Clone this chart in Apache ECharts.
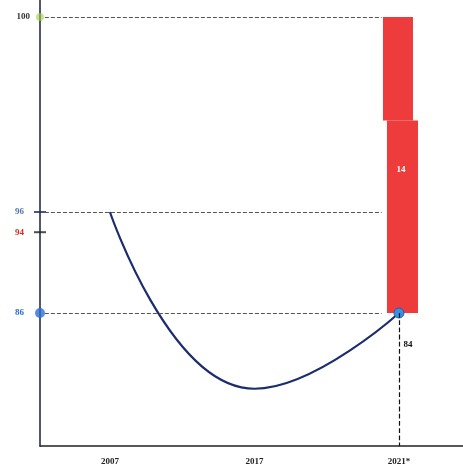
<!DOCTYPE html>
<html><head><meta charset="utf-8">
<script src="https://cdn.jsdelivr.net/npm/echarts@6/dist/echarts.min.js"></script>
<style>html,body{margin:0;padding:0;background:#fff}#c{width:463px;height:467px}</style>
</head><body><div id="c"></div>
<script>
// ---- data ----
const categories = ['2007', '2017', '2021*'];
const lineValues = [96, 78.5, 86];
const lineLabels = ['81', '83', '84'];
const barIndex = 2;
const barBase = 86;
const barTop = 100;
const barLabel = '14';
const upperTicks = [100];
const lowerTicks = [96, 94, 86];
const lowerTickColors = ['#5577b0', '#d42a2a', '#2d6fd2'];
const refLinesLower = [96, 86];
const refLinesUpper = [100];

// ---- layout / scales ----
const X_MIN = -0.484, X_MAX = 2.443;
const Y0_MIN = 79.71, Y0_MAX = 100.8;   // bar scale
const Y1_MIN = 72.83, Y1_MAX = 116.99;  // line scale
const BREAK_AT = 95.1;                  // visual break of the bar
const REF_X0 = -0.45, REF_X1 = 1.88;
const serif = '"Liberation Serif", "DejaVu Serif", serif';

const chart = echarts.init(document.getElementById('c'), null, {renderer: 'canvas'});

const lineData = lineValues.map((v, i) => {
  const item = {value: [i, v], symbol: 'none'};
  if (i === lineValues.length - 1) {
    item.symbol = 'circle';
    item.symbolSize = 10;
    item.itemStyle = {color: '#3d8fe0', borderColor: '#1f5fb0', borderWidth: 1};
  }
  return item;
});
const labelCfg = [
  {position: 'bottom', distance: 9, offset: [3, 0]},
  {position: 'bottom', distance: 15, offset: [0, 0]},
  {position: 'bottom', distance: 22, offset: [9, 0]}
];
lineData.forEach((d, i) => {
  d.label = Object.assign({show: true, formatter: lineLabels[i], color: '#111',
    fontFamily: serif, fontWeight: 'bold', fontSize: 9}, labelCfg[i]);
});

const dashed = {type: 'dashed', color: '#555', width: 1};

function renderBar(params, api) {
  const x = api.value(0), lo = api.value(1), hi = api.value(2);
  const pTop = api.coord([x, hi]);
  const pBrk = api.coord([x, BREAK_AT]);
  const pLo = api.coord([x, lo]);
  return {
    type: 'group',
    children: [
      {type: 'rect', shape: {x: pTop[0] - 16, y: pTop[1], width: 30, height: pBrk[1] - pTop[1]},
       style: {fill: '#ee3b3b'}},
      {type: 'rect', shape: {x: pBrk[0] - 12, y: pBrk[1], width: 31, height: pLo[1] - pBrk[1]},
       style: {fill: '#ee3b3b'}},
      {type: 'text', x: pLo[0] + 2, y: (pTop[1] + pLo[1]) / 2 + 5,
       style: {text: barLabel, fill: '#fff', align: 'center', verticalAlign: 'middle',
         font: 'bold 9px ' + serif}}
    ]
  };
}

const option = {
  animation: false,
  grid: {left: 40, right: 0, top: 0, bottom: 21, containLabel: false, outerBoundsMode: 'none'},
  xAxis: {
    type: 'value', min: X_MIN, max: X_MAX,
    splitLine: {show: false},
    axisLine: {show: true, onZero: false, lineStyle: {color: '#222', width: 1.5}},
    axisTick: {show: false},
    axisLabel: {
      customValues: categories.map((c, i) => i),
      formatter: v => categories[Math.round(v)],
      color: '#222', fontFamily: serif, fontWeight: 'bold', fontSize: 9, margin: 11
    }
  },
  yAxis: [
    {
      type: 'value', min: Y0_MIN, max: Y0_MAX, position: 'left',
      splitLine: {show: false},
      axisLine: {show: true, onZero: false, lineStyle: {color: '#1a1f3a', width: 1.5}},
      axisTick: {show: false},
      axisLabel: {customValues: upperTicks, color: '#333', fontFamily: serif,
        fontWeight: 'bold', fontSize: 9, margin: 10}
    },
    {
      type: 'value', min: Y1_MIN, max: Y1_MAX, position: 'left', offset: 0,
      splitLine: {show: false},
      axisLine: {show: false, onZero: false},
      axisTick: {show: false},
      axisLabel: {
        customValues: lowerTicks,
        formatter: v => '{c' + lowerTicks.indexOf(v) + '|' + v + '}',
        rich: Object.fromEntries(lowerTickColors.map((c, i) => ['c' + i,
          {color: c, fontFamily: serif, fontWeight: 'bold', fontSize: 9}])),
        margin: 16
      }
    }
  ],
  series: [
    {
      type: 'custom', yAxisIndex: 0, renderItem: renderBar, clip: false,
      encode: {x: 0, y: [1, 2]},
      data: [[barIndex, barBase, barTop]],
      markLine: {
        symbol: 'none', silent: true, label: {show: false},
        lineStyle: dashed,
        data: refLinesUpper.map(v => [{coord: [REF_X0, v]}, {coord: [REF_X1, v]}])
      }
    },
    {
      type: 'line', yAxisIndex: 1, smooth: 0.5,
      lineStyle: {color: '#1b2d6e', width: 2.2},
      data: lineData,
      markLine: {
        symbol: 'none', silent: true, label: {show: false},
        lineStyle: dashed,
        data: refLinesLower.map(v => [{coord: [REF_X0, v]}, {coord: [REF_X1, v]}]).concat([
          [{coord: [barIndex, lineValues[barIndex]], lineStyle: {type: 'dashed', color: '#111', width: 1.2}},
           {coord: [barIndex, Y1_MIN]}]
        ])
      }
    },
    {
      type: 'scatter', yAxisIndex: 1, clip: false, silent: true,
      data: [
        {value: [X_MIN, lowerTicks[0]], symbol: 'rect', symbolSize: [12, 2], itemStyle: {color: '#1e2a66'}},
        {value: [X_MIN, lowerTicks[1]], symbol: 'rect', symbolSize: [12, 2], itemStyle: {color: '#222'}},
        {value: [X_MIN, lowerTicks[2]], symbol: 'circle', symbolSize: 10, itemStyle: {color: '#2d6fd2'}}
      ]
    },
    {
      type: 'scatter', yAxisIndex: 0, clip: false, silent: true,
      data: [{value: [X_MIN, upperTicks[0]], symbol: 'circle', symbolSize: 8,
        itemStyle: {color: 'rgba(160,205,70,0.75)'}}]
    }
  ]
};
chart.setOption(option);
</script></body></html>
